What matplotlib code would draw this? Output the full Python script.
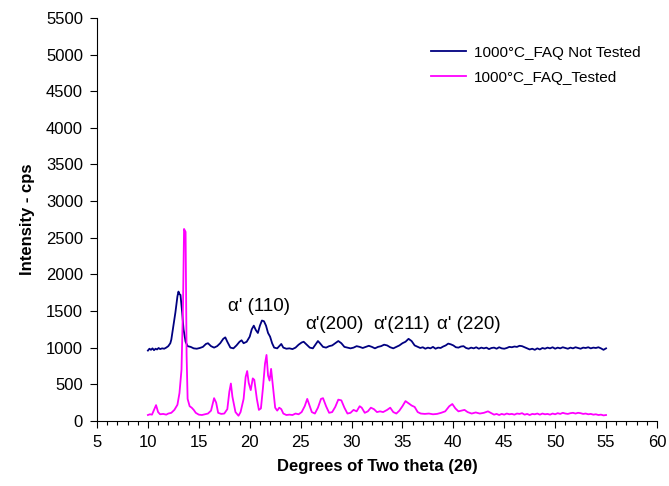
import numpy as np
import matplotlib.pyplot as plt
from matplotlib.ticker import MultipleLocator

plt.rcParams['font.family'] = ['Liberation Sans', 'DejaVu Sans']

# 1000C FAQ not tested (navy)
nt_x = [10.0, 10.15, 10.3, 10.45, 10.6, 10.75, 10.9, 11.05, 11.2, 11.4, 11.6, 11.8, 12.0, 12.2,
        12.3, 12.5, 12.7, 12.9, 13.0,
        13.1, 13.2, 13.35, 13.5, 13.7, 13.9, 14.2, 14.5, 14.8, 15.1, 15.4, 15.7, 15.9, 16.2, 16.5,
        16.8, 17.1, 17.4, 17.6, 17.8, 18.1, 18.4, 18.7, 19.0, 19.2, 19.4, 19.7, 20.0, 20.2, 20.4,
        20.6, 20.8, 21.0, 21.2, 21.4, 21.6, 21.8, 22.0, 22.2, 22.4, 22.7, 22.9, 23.1, 23.3, 23.6,
        23.9, 24.2, 24.5, 24.8, 25.1, 25.3, 25.6, 25.9, 26.2, 26.5, 26.7, 26.9, 27.2, 27.5, 27.8,
        28.1, 28.4, 28.7, 29.0, 29.3, 29.6, 29.9, 30.2, 30.5, 30.8, 31.1, 31.4, 31.7, 32.0, 32.3,
        32.6, 32.9, 33.2, 33.5, 33.8, 34.1, 34.4, 34.7, 35.0, 35.3, 35.6, 35.9, 36.2,
        36.5, 36.75, 37.0, 37.25, 37.5, 37.75, 38.0, 38.25, 38.5, 38.75, 39.0, 39.25, 39.5, 39.75,
        40.0, 40.25, 40.5, 40.75, 41.0, 41.25, 41.5, 41.75, 42.0, 42.25, 42.5, 42.75, 43.0, 43.25,
        43.5, 43.75, 44.0, 44.25, 44.5, 44.75, 45.0, 45.25, 45.5, 45.75, 46.0, 46.25, 46.5, 46.75,
        47.0, 47.25, 47.5, 47.75, 48.0, 48.25, 48.5, 48.75, 49.0, 49.25, 49.5, 49.75, 50.0, 50.25,
        50.5, 50.75, 51.0, 51.25, 51.5, 51.75, 52.0, 52.25, 52.5, 52.75, 53.0, 53.25, 53.5, 53.75,
        54.0, 54.25, 54.5, 54.75, 55.0]
nt_y = [960, 985, 970, 990, 965, 985, 975, 995, 980, 990, 985, 1000, 1020, 1060,
        1110, 1300, 1480, 1700, 1765,
        1730, 1720, 1500, 1250, 1080, 1020, 1010, 990, 985, 995, 1010, 1050, 1060, 1020, 1000,
        1020, 1060, 1120, 1140, 1080, 1000, 990, 1030, 1080, 1100, 1060, 1080, 1150, 1250, 1300,
        1240, 1200, 1300, 1370, 1360, 1300, 1200, 1150, 1060, 1000, 990, 1020, 1050, 1000, 985,
        990, 980, 1000, 1040, 1070, 1080, 1040, 1000, 990, 1050, 1090, 1060, 1010, 1000, 1020,
        1030, 1060, 1090, 1060, 1010, 1000, 990, 1000, 1020, 1010, 995, 1010, 1025, 1010, 990,
        1010, 1020, 1040, 1030, 1005, 990, 1010, 1030, 1060, 1080, 1120, 1090, 1030,
        1010, 995, 1005, 985, 1000, 990, 1010, 985, 1000, 995, 1015, 1030, 1055, 1045,
        1030, 1005, 1000, 1015, 1020, 995, 985, 1000, 990, 1005, 985, 1000, 990, 1000,
        980, 995, 1000, 985, 1005, 990, 985, 995, 1010, 1005, 1015, 1010, 1025, 1020,
        1005, 990, 975, 985, 970, 990, 975, 995, 985, 1000, 990, 1005, 985, 1000,
        990, 1005, 995, 985, 1000, 990, 1005, 995, 985, 1000, 995, 1005, 990, 1000,
        995, 1005, 990, 970, 990]

# 1000C FAQ tested (magenta)
t_x = [10.0, 10.2, 10.4, 10.6, 10.8, 11.0, 11.2, 11.5, 11.8, 12.0, 12.3, 12.6, 12.9, 13.1, 13.3,
       13.45, 13.55, 13.7, 13.8, 13.9, 14.1, 14.3, 14.5, 14.7, 15.0, 15.3, 15.6, 15.9, 16.2, 16.5,
       16.7, 16.9, 17.2, 17.5, 17.8, 18.0, 18.15, 18.3, 18.6, 18.9, 19.1, 19.4, 19.6, 19.75, 19.9,
       20.1, 20.3, 20.45, 20.7, 20.9, 21.1, 21.3, 21.5, 21.65, 21.8, 21.95, 22.1, 22.3, 22.5, 22.7,
       22.9, 23.1, 23.3, 23.6, 23.9, 24.2, 24.5, 24.8, 25.1, 25.4, 25.65, 25.9, 26.1, 26.4, 26.7,
       27.0, 27.2, 27.5, 27.8, 28.1, 28.4, 28.7, 29.0, 29.3, 29.6, 29.9, 30.2, 30.5, 30.8, 31.0,
       31.3, 31.6, 31.9, 32.2, 32.5, 32.8, 33.1, 33.5, 33.8, 34.1, 34.4, 34.7, 35.0, 35.3, 35.6,
       35.9, 36.2, 36.5, 36.8, 37.2, 37.6, 38.0, 38.4, 38.8, 39.2, 39.6, 39.9, 40.2, 40.5, 40.8,
       41.1, 41.4, 41.8, 42.2, 42.6, 43.0, 43.4, 43.8,
       44.0, 44.25, 44.5, 44.75, 45.0, 45.25, 45.5, 45.75, 46.0, 46.25, 46.5, 46.75, 47.0, 47.25,
       47.5, 47.75, 48.0, 48.25, 48.5, 48.75, 49.0, 49.25, 49.5, 49.75, 50.0, 50.25, 50.5, 50.75,
       51.0, 51.25, 51.5, 51.75, 52.0, 52.25, 52.5, 52.75, 53.0, 53.25, 53.5, 53.75, 54.0, 54.25,
       54.5, 54.75, 55.0]
t_y = [80, 90, 85, 150, 215, 120, 90, 95, 85, 100, 110, 150, 220, 380, 700,
       1600, 2620, 2580, 900, 300, 200, 180, 150, 110, 85, 80, 90, 100, 140, 310,
       250, 110, 95, 100, 160, 400, 510, 330, 120, 70, 120, 300, 600, 680, 520,
       420, 580, 560, 300, 150, 170, 450, 780, 900, 620, 550, 710, 450, 180, 140,
       180, 160, 100, 80, 85, 80, 100, 90, 120, 200, 300, 200, 120, 100, 180,
       300, 310, 200, 110, 120, 190, 290, 280, 180, 100, 110, 150, 130, 200, 180,
       110, 130, 180, 160, 120, 130, 120, 150, 180, 120, 100, 140, 200, 270, 240,
       210, 190, 120, 100, 95, 100, 90, 95, 110, 130, 200, 230, 170, 130, 140,
       150, 120, 100, 115, 100, 110, 130, 100,
       85, 95, 80, 95, 85, 100, 90, 95, 85, 100, 95, 105, 85, 95,
       80, 95, 90, 100, 85, 100, 90, 95, 85, 100, 90, 105, 95, 110,
       100, 95, 105, 110, 100, 110, 105, 95, 100, 90, 95, 85, 90, 80,
       85, 75, 80]

peak_labels = ["\u03b1' (110)", "\u03b1'(200)", "\u03b1'(211)", "\u03b1' (220)"]
peak_x = [20.9, 28.3, 34.9, 41.5]
peak_y = [1560, 1310, 1310, 1310]

fig = plt.figure(figsize=(6.69, 4.86), dpi=100)
ax = fig.add_axes([0.145, 0.134, 0.837, 0.829])

ax.plot(nt_x, nt_y, color='#000080', lw=1.3, label='1000\u00b0C_FAQ Not Tested')
ax.plot(t_x, t_y, color='#ff00ff', lw=1.3, label='1000\u00b0C_FAQ_Tested')

for lab, px, py in zip(peak_labels, peak_x, peak_y):
    ax.text(px, py, lab, ha='center', va='center', fontsize=13.5)

ax.set_xlim(5, 60)
ax.set_ylim(0, 5500)
ax.xaxis.set_major_locator(MultipleLocator(5))
ax.xaxis.set_minor_locator(MultipleLocator(1))
ax.yaxis.set_major_locator(MultipleLocator(500))
ax.tick_params(axis='both', which='major', direction='out', length=5, labelsize=12, width=0.8,
               pad=5)
ax.tick_params(axis='x', which='minor', direction='out', length=3, width=0.8)
for s in ['top', 'right']:
    ax.spines[s].set_visible(False)

ax.set_xlabel('Degrees of Two theta (2\u03b8)', fontsize=12, fontweight='bold', labelpad=7)
ax.set_ylabel('Intensity - cps', fontsize=12, fontweight='bold', labelpad=8)

ax.legend(loc='upper right', bbox_to_anchor=(0.995, 0.965), frameon=False, fontsize=11,
          handlelength=2.3, handletextpad=0.5, labelspacing=0.7)

fig.savefig('out.png', dpi=100)
